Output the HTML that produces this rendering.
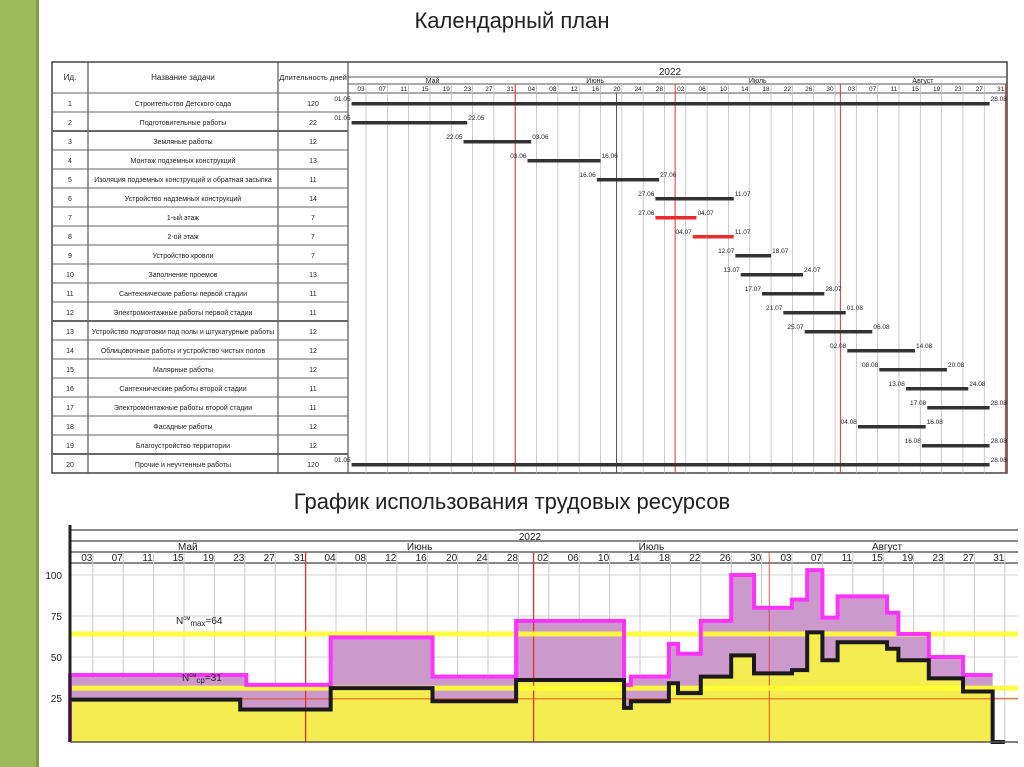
<!DOCTYPE html>
<html><head><meta charset="utf-8"><style>
body{margin:0;background:#fff;}
#root{position:relative;width:1024px;height:767px;overflow:hidden;background:#fff;font-family:"Liberation Sans","Noto Sans CJK SC",sans-serif;}
.t{position:absolute;left:0;width:1024px;text-align:center;font-size:22px;color:#222;}
svg text{font-family:"Liberation Sans Narrow","Liberation Sans",sans-serif;}
</style></head><body>
<div id="root">
<div style="position:absolute;left:0;top:0;width:36px;height:767px;background:#9bbb59;border-right:3px solid #7f9f43"></div>
<div class="t" style="top:8px">Календарный план</div>
<div class="t" style="top:489px">График использования трудовых ресурсов</div>
<svg id="g" width="1024" height="767" style="position:absolute;left:0;top:0"></svg>
</div>
<script>
// ---------- data ----------
const taskIds=["1","2","3","4","5","6","7","8","9","10","11","12","13","14","15","16","17","18","19","20"];
const taskNames=["Строительство Детского сада","Подготовительные работы","Земляные работы","Монтаж подземных конструкций","Изоляция подземных конструкций и обратная засыпка","Устройство надземных конструкций","1-ый этаж","2-ой этаж","Устройство кровли","Заполнение проемов","Сантехнические работы первой стадии","Электромонтажные работы первой стадии","Устройство подготовки под полы и штукатурные работы","Облицовочные работы и устройство чистых полов","Малярные работы","Сантехнические работы второй стадии","Электромонтажные работы второй стадии","Фасадные работы","Благоустройство территории","Прочие и неучтенные работы"];
const taskDur=["120","22","12","13","11","14","7","7","7","13","11","11","12","12","12","11","11","12","12","120"];
const taskStart=["01.05","01.05","22.05","03.06","16.06","27.06","27.06","04.07","12.07","13.07","17.07","21.07","25.07","02.08","08.08","13.08","17.08","04.08","16.08","01.05"];
const taskEnd=["28.08","22.05","03.06","16.06","27.06","11.07","04.07","11.07","18.07","24.07","28.07","01.08","06.08","14.08","20.08","24.08","28.08","16.08","28.08","28.08"];
const taskRed=[0,0,0,0,0,0,1,1,0,0,0,0,0,0,0,0,0,0,0,0];
const dayLabels=["03","07","11","15","19","23","27","31","04","08","12","16","20","24","28","02","06","10","14","18","22","26","30","03","07","11","15","19","23","27","31"];
const monthNames=["Май","Июнь","Июль","Август"];
const yTicks=[25,50,75,100];
// labour: step boundaries (day number from 01.05) and values
const stepEdges=[0,23.2,34.3,47.7,58.7,72.9,73.8,78.8,80,83,87,90,95,97,99,101,107.5,109,113,117.5,121.4];
const totalVals=[39,33,62,38,72,33,38,58,52,72,100,80,85,103,74,87,77,64,50,39];
const blackEdges=[0,22.4,34.3,47.7,58.7,72.9,73.8,78.8,80,83,87,90,95,97,99,101,107.5,109,113,117.5,121.4];
const blackVals=[24,18,31,23,36,19,23,34,28,38,51,40,42,65,48,59,55,48,37,29];
const nMax=64, nAvg=31;

const svg=document.getElementById('g');const NS="http://www.w3.org/2000/svg";
function el(tag,at,parent){const e=document.createElementNS(NS,tag);for(const k in at)e.setAttribute(k,at[k]);(parent||svg).appendChild(e);return e;}
function txt(x,y,s,size,anchor,parent,fill){const t=el('text',{x:x,y:y,'font-size':size,'text-anchor':anchor||'middle',fill:fill||'#222'},parent);t.textContent=s;return t;}
const monthOff={"05":0,"06":31,"07":61,"08":92};
function dnum(s){const p=s.split('.');return monthOff[p[1]]+parseInt(p[0],10);}
const monthStart=[0,31,61,92],monthEnd=[31,61,92,123];
const labelDay=[];for(let i=0;i<31;i++)labelDay.push(3+4*i);

// ---------- table ----------
const tbl=el('g',{});

const T0=62,H0=93,RH=19,L=52,R=1007;
el('rect',{x:L,y:T0,width:R-L,height:H0+20*RH-T0,fill:'none',stroke:'#444','stroke-width':1.5},tbl);
[88,278,348].forEach(x=>el('line',{x1:x,y1:T0,x2:x,y2:H0+20*RH,stroke:'#555','stroke-width':1.2},tbl));
txt(70,80,"Ид.",8,'middle',tbl);txt(183,80,"Название задачи",8,'middle',tbl);txt(313,80,"Длительность дней",7.5,'middle',tbl);
for(let i=0;i<20;i++){
  const y=H0+i*RH;
  el('line',{x1:L,y1:y,x2:348,y2:y,stroke:'#666','stroke-width':(i==2||i==12||i==19)?2:1},tbl);
  const r=el('g',{},tbl);
  
  
  txt(70,y+13,taskIds[i],7,'middle',r);txt(183,y+13,taskNames[i],7,'middle',r);txt(313,y+13,taskDur[i],7,'middle',r);
}
// ---------- gantt ----------
const gx=d=>350+d*5.33;
const gan=el('g',{});

el('line',{x1:348,y1:77,x2:R,y2:77,stroke:'#555'},gan);el('line',{x1:348,y1:84,x2:R,y2:84,stroke:'#555'},gan);el('line',{x1:348,y1:93,x2:R,y2:93,stroke:'#555'},gan);
txt(670,75,"2022",10,'middle',gan);
monthNames.forEach((m,i)=>txt((gx(monthStart[i])+gx(monthEnd[i]))/2,83,m,7,'middle',gan));
dayLabels.forEach((s,i)=>{const x=gx(labelDay[i]);
  el('line',{x1:x,y1:84,x2:x,y2:H0+20*RH,stroke:'#bbb','stroke-width':0.8},gan);
  txt(x-5,91,s,6.5,'middle',gan);});
[31,61,92,123].forEach(d=>el('line',{x1:gx(d),y1:84,x2:gx(d),y2:H0+20*RH,stroke:'#e03030','stroke-width':1},gan));
el('line',{x1:gx(50),y1:93,x2:gx(50),y2:H0+20*RH,stroke:'#555','stroke-width':1},gan);
for(let i=0;i<20;i++){
  const y=H0+i*RH+9, s=dnum(taskStart[i])-0.7, e=dnum(taskEnd[i]);
  const b=el('rect',{x:gx(s),y:y,width:gx(e)-gx(s),height:3.5,fill:taskRed[i]?'#ee2b2b':'#333'},gan);
  
  
  txt(gx(s)-1,y-1,taskStart[i],6.5,'end',gan);txt(gx(e)+1,y-1,taskEnd[i],6.5,'start',gan);
}
// ---------- labour chart ----------
const bx=d=>70+d*7.6, by=v=>739-v*1.64, BASE=742, CR=1018;
const lab=el('g',{});

[530,541,552,563].forEach(y=>el('line',{x1:70,y1:y,x2:CR,y2:y,stroke:'#444','stroke-width':1.3},lab));
txt(530,540,"2022",10,'middle',lab);
monthNames.forEach((m,i)=>txt((bx(monthStart[i])+bx(monthEnd[i]))/2,550,m,10,'middle',lab));
dayLabels.forEach((s,i)=>{const x=bx(labelDay[i]);
  el('line',{x1:x,y1:552,x2:x,y2:BASE,stroke:'#c8c8c8','stroke-width':1},lab);
  txt(x-6,561,s,10,'middle',lab);});
yTicks.forEach(v=>{el('line',{x1:70,y1:by(v),x2:CR,y2:by(v),stroke:'#d0d0d0'},lab);txt(62,by(v)+4,String(v),10,'end',lab);});
function stepPts(edges,vals){let p=[];for(let i=0;i<vals.length;i++){p.push([bx(edges[i]),by(vals[i])]);p.push([bx(edges[i+1]),by(vals[i])]);}return p;}
const tp=stepPts(stepEdges,totalVals), bp=stepPts(blackEdges,blackVals);
const tl=tp.map(p=>p.join(',')).join(' '), bl=bp.map(p=>p.join(',')).join(' ');
const xEnd=bx(stepEdges[stepEdges.length-1]);
const pf=el('polygon',{points:bx(0)+','+BASE+' '+tl+' '+xEnd+','+BASE,fill:'#cc99cc'},lab);

const yf=el('polygon',{points:bx(0)+','+BASE+' '+bl+' '+xEnd+','+BASE,fill:'#f5ec4f'},lab);

[31,61,92].forEach((d,i)=>el('line',{x1:bx(d),y1:552,x2:bx(d),y2:BASE,stroke:'#e03030','stroke-width':i==2?0.8:1.3},lab));
el('line',{x1:70,y1:by(24.5),x2:CR,y2:by(24.5),stroke:'#e05020','stroke-width':1},lab);
const l1=el('line',{x1:70,y1:by(nMax),x2:CR,y2:by(nMax),stroke:'#ffff30','stroke-width':5,opacity:0.9},lab);

const l2=el('line',{x1:70,y1:by(nAvg),x2:CR,y2:by(nAvg),stroke:'#ffff30','stroke-width':5,opacity:0.9},lab);

const ml=el('polyline',{points:bx(0)+','+BASE+' '+tl+' '+xEnd+','+by(totalVals[totalVals.length-1]),fill:'none',stroke:'#ff33ff','stroke-width':4},lab);

const kl=el('polyline',{points:bl+' '+xEnd+','+BASE+' '+bx(123)+','+BASE,fill:'none',stroke:'#1a1a1a','stroke-width':4},lab);

el('line',{x1:70,y1:525,x2:70,y2:BASE,stroke:'#222','stroke-width':3},lab);
el('line',{x1:70,y1:BASE,x2:CR,y2:BASE,stroke:'#555','stroke-width':1.5},lab);
const t1=txt(176,624,"Nсм",10,'start',lab);t1.innerHTML='N<tspan dy="-4" font-size="6">см</tspan><tspan dy="6" font-size="8">max</tspan><tspan dy="-2">=64</tspan>';
const t2=txt(182,681,"",10,'start',lab);t2.innerHTML='N<tspan dy="-4" font-size="6">см</tspan><tspan dy="6" font-size="8">ср</tspan><tspan dy="-2">=31</tspan>';
</script>
</body></html>
